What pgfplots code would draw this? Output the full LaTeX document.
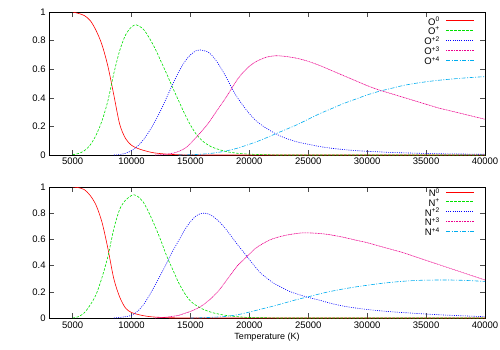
\documentclass[border=0pt]{standalone}
\usepackage{pgfplots}
\pgfplotsset{compat=1.18}
\usepackage{fontspec}
\setmainfont{Liberation Sans}
\definecolor{gg}{RGB}{0,225,0}
\newcommand{\legtext}[2]{%
  \node[anchor=east, inner sep=0pt, yshift=-0.6bp, text=black, font=\fontsize{9.5bp}{10bp}\selectfont] at (axis description cs:0.8968,#1) {#2};
}
\tikzset{
  s1/.style={red, line width=0.6pt},
  s2/.style={gg, line width=0.6pt, dash pattern=on 2.5bp off 1.5bp},
  s3/.style={blue, line width=0.6pt, dash pattern=on 1bp off 1.2bp},
  s4/.style={magenta, line width=0.6pt, dash pattern=on 1bp off 0.6bp},
  s5/.style={cyan, line width=0.6pt, dash pattern=on 4bp off 1.5bp on 1bp off 1.5bp},
}
\begin{document}
\fontsize{9.5bp}{11bp}\selectfont
\begin{tikzpicture}
\useasboundingbox (0,0) rectangle (500bp,-350bp);
\pgfplotsset{
  myax/.style={
    scale only axis, width=436bp,
    xmin=3000, xmax=40000, ymin=0, ymax=1,
    xtick={5000,10000,15000,20000,25000,30000,35000,40000},
    ytick={0,0.2,0.4,0.6,0.8,1},
    scaled x ticks=false,
    xticklabel style={/pgf/number format/1000 sep={}},
    /pgf/number format/assume math mode=true,
    tick align=inside, major tick length=5bp,
    tick style={black!70, line width=0.5pt},
    axis line style={line width=0.7pt},
  },
}
\begin{axis}[myax, at={(49bp,-12bp)}, anchor=north west, height=143bp]
\addplot[s1, smooth] coordinates {(5000,1.0)(5500,0.99)(6000,0.975)(6500,0.94)(7000,0.87)(7500,0.77)(8000,0.62)(8500,0.42)(9000,0.215)(9500,0.115)(10000,0.068)(10500,0.047)(11000,0.033)(11500,0.022)(12000,0.014)(13000,0.006)(14000,0.002)(15000,0.0007)(16000,0.0002)(18000,0)(40000,0)};
\addplot[s2, smooth] coordinates {(5000,0.002)(5500,0.01)(6000,0.03)(6500,0.07)(7000,0.14)(7500,0.24)(8000,0.38)(8500,0.57)(9000,0.73)(9500,0.84)(10000,0.895)(10400,0.91)(11000,0.88)(11500,0.82)(12000,0.745)(12500,0.655)(13000,0.565)(13500,0.47)(14000,0.38)(14500,0.29)(15000,0.21)(15500,0.145)(16000,0.1)(16500,0.07)(17000,0.05)(18000,0.025)(19000,0.012)(20000,0.006)(21000,0.003)(22000,0.001)(24000,0)(40000,0)};
\addplot[s3, smooth] coordinates {(8500,0)(9000,0.003)(9500,0.012)(10000,0.03)(10500,0.06)(11000,0.105)(11500,0.165)(12000,0.235)(12500,0.315)(13000,0.405)(13500,0.495)(14000,0.58)(14500,0.65)(15000,0.70)(15500,0.73)(15800,0.735)(16500,0.72)(17000,0.68)(17500,0.62)(18000,0.55)(18500,0.47)(19000,0.40)(19800,0.31)(20500,0.245)(21200,0.20)(22200,0.15)(23000,0.12)(24000,0.093)(25000,0.075)(26000,0.059)(27000,0.047)(28000,0.038)(29000,0.031)(30000,0.026)(31000,0.022)(32000,0.018)(34000,0.013)(36000,0.009)(38000,0.007)(40000,0.005)};
\addplot[s4, smooth] coordinates {(12000,0)(12500,0.002)(13000,0.006)(13500,0.012)(14000,0.025)(14500,0.045)(15000,0.08)(15500,0.125)(16000,0.17)(16500,0.22)(17000,0.28)(17500,0.34)(18000,0.40)(18500,0.465)(19000,0.53)(19500,0.58)(20000,0.62)(20500,0.65)(21000,0.67)(21500,0.685)(22200,0.694)(23000,0.69)(24000,0.677)(25000,0.655)(26000,0.625)(27000,0.59)(28000,0.555)(29000,0.52)(30000,0.485)(31000,0.455)(32000,0.43)(33000,0.405)(34000,0.38)(35000,0.355)(36000,0.33)(37000,0.31)(38000,0.29)(39000,0.27)(40000,0.25)};
\addplot[s5, smooth] coordinates {(14000,0)(15000,0.002)(16000,0.006)(17000,0.014)(18000,0.028)(19000,0.048)(20000,0.075)(21000,0.105)(22000,0.14)(23000,0.175)(24000,0.21)(25000,0.25)(26000,0.29)(27000,0.325)(28000,0.36)(29000,0.39)(30000,0.42)(31000,0.445)(32000,0.465)(33000,0.485)(34000,0.5)(35000,0.512)(36000,0.522)(37000,0.53)(38000,0.537)(39000,0.543)(40000,0.548)};
% legend samples
\addplot[s1, line width=0.9pt, forget plot] coordinates {(36692,0.939)(39068,0.939)};
\addplot[s2, line width=0.9pt, forget plot] coordinates {(36692,0.872)(39068,0.872)};
\addplot[s3, line width=0.9pt, forget plot] coordinates {(36692,0.804)(39068,0.804)};
\addplot[s4, line width=0.9pt, forget plot] coordinates {(36692,0.734)(39068,0.734)};
\addplot[s5, line width=0.9pt, forget plot] coordinates {(36692,0.664)(39068,0.664)};
\legtext{0.939}{O\textsuperscript{0}}
\legtext{0.872}{O\textsuperscript{+}}
\legtext{0.804}{O\textsuperscript{+2}}
\legtext{0.734}{O\textsuperscript{+3}}
\legtext{0.664}{O\textsuperscript{+4}}
\end{axis}
\begin{axis}[myax, at={(49bp,-187bp)}, anchor=north west, height=131bp,
  xlabel={Temperature (K)}, xlabel style={font=\fontsize{9bp}{10bp}\selectfont, yshift=2bp}]
\addplot[s1, smooth] coordinates {(5000,1.0)(5500,0.995)(6000,0.98)(6500,0.935)(7000,0.86)(7500,0.73)(8000,0.53)(8500,0.30)(9000,0.16)(9500,0.075)(10000,0.042)(10500,0.028)(11000,0.018)(11500,0.011)(12000,0.007)(13000,0.003)(14000,0.001)(15000,0)(40000,0)};
\addplot[s2, smooth] coordinates {(5000,0.0)(5500,0.01)(6000,0.04)(6500,0.1)(7000,0.18)(7500,0.31)(8000,0.47)(8500,0.68)(9000,0.83)(9500,0.9)(10000,0.935)(10200,0.94)(10500,0.93)(11000,0.885)(11500,0.80)(12000,0.70)(12500,0.59)(13000,0.47)(13500,0.37)(14000,0.27)(14500,0.19)(15000,0.13)(15500,0.095)(16000,0.07)(16500,0.052)(17000,0.038)(18000,0.02)(19000,0.01)(20000,0.004)(22000,0.001)(24000,0)(40000,0)};
\addplot[s3, smooth] coordinates {(8500,0)(9000,0.004)(9500,0.01)(10000,0.02)(10500,0.05)(11000,0.1)(11500,0.17)(12000,0.25)(12500,0.335)(13000,0.42)(13500,0.51)(14000,0.59)(14500,0.67)(15000,0.735)(15500,0.78)(16000,0.80)(16500,0.795)(17000,0.77)(17500,0.73)(18000,0.68)(18500,0.62)(19000,0.56)(19800,0.47)(20500,0.39)(21000,0.34)(22000,0.27)(22600,0.24)(23500,0.2)(24900,0.16)(26000,0.135)(27000,0.11)(28300,0.086)(30000,0.065)(32000,0.048)(34000,0.036)(35000,0.03)(37000,0.021)(40000,0.01)};
\addplot[s4, smooth] coordinates {(12000,0)(12500,0.003)(13000,0.007)(13500,0.013)(14000,0.02)(14500,0.035)(15000,0.05)(15500,0.07)(16000,0.095)(16500,0.13)(17000,0.17)(17500,0.22)(18000,0.28)(18500,0.34)(19000,0.4)(19800,0.47)(20500,0.53)(21000,0.56)(21500,0.585)(22000,0.605)(23000,0.63)(24000,0.645)(24600,0.65)(25500,0.648)(26500,0.64)(27500,0.625)(28300,0.61)(29000,0.595)(30000,0.575)(31000,0.55)(32000,0.525)(33000,0.5)(34000,0.47)(35000,0.44)(36000,0.41)(37000,0.38)(38000,0.35)(39000,0.32)(40000,0.29)};
\addplot[s5, smooth] coordinates {(15000,0)(16000,0.002)(17000,0.006)(18000,0.012)(19000,0.025)(20000,0.045)(21000,0.068)(22000,0.09)(23000,0.115)(24000,0.14)(25000,0.162)(26000,0.185)(27000,0.205)(28000,0.222)(29000,0.237)(30000,0.25)(31000,0.262)(32000,0.272)(33000,0.28)(34000,0.286)(35000,0.289)(36000,0.29)(37000,0.29)(38000,0.288)(39000,0.284)(40000,0.279)};
% legend samples
\addplot[s1, line width=0.9pt, forget plot] coordinates {(36692,0.962)(39068,0.962)};
\addplot[s2, line width=0.9pt, forget plot] coordinates {(36692,0.887)(39068,0.887)};
\addplot[s3, line width=0.9pt, forget plot] coordinates {(36692,0.811)(39068,0.811)};
\addplot[s4, line width=0.9pt, forget plot] coordinates {(36692,0.740)(39068,0.740)};
\addplot[s5, line width=0.9pt, forget plot] coordinates {(36692,0.664)(39068,0.664)};
\legtext{0.962}{N\textsuperscript{0}}
\legtext{0.887}{N\textsuperscript{+}}
\legtext{0.811}{N\textsuperscript{+2}}
\legtext{0.740}{N\textsuperscript{+3}}
\legtext{0.664}{N\textsuperscript{+4}}
\end{axis}
\end{tikzpicture}
\end{document}
